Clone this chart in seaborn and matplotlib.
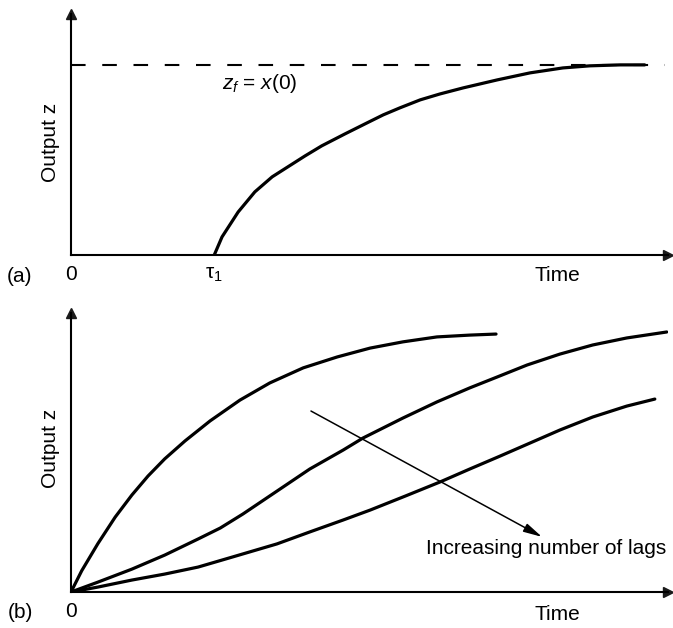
import matplotlib
matplotlib.use("Agg")
import matplotlib.pyplot as plt
import seaborn as sns

## panel (a): first-order response delayed by the dead time tau1 (time axis in units 0..10)
t_dead = [2.40, 2.53, 2.80, 3.08, 3.37, 3.63, 3.92, 4.20, 4.59, 4.96, 5.23,
          5.51, 5.85, 6.18, 6.57, 7.14, 7.69, 8.24, 8.69, 9.20, 9.61]
z_dead = [0.00, 0.095, 0.226, 0.332, 0.411, 0.463, 0.521, 0.574, 0.637, 0.695, 0.737,
          0.774, 0.816, 0.847, 0.879, 0.921, 0.958, 0.984, 0.995, 1.0, 1.0]
tau1 = 2.40
z_final = 1.0

## panel (b): responses for an increasing number of lags
t_lag1 = [0.0, 0.18, 0.45, 0.74, 1.02, 1.29, 1.57, 1.91, 2.33, 2.83, 3.33,
          3.89, 4.46, 5.01, 5.56, 6.13, 6.68, 7.12]
z_lag1 = [0.0, 0.082, 0.186, 0.288, 0.373, 0.446, 0.512, 0.581, 0.658, 0.738, 0.804,
          0.862, 0.904, 0.938, 0.962, 0.981, 0.988, 0.992]
t_lag2 = [0.0, 0.45, 1.02, 1.57, 2.13, 2.50, 2.88, 3.45, 4.00, 4.56, 4.89,
          5.56, 6.13, 6.68, 7.14, 7.64, 8.19, 8.74, 9.31, 9.98]
z_lag2 = [0.0, 0.038, 0.088, 0.142, 0.204, 0.246, 0.300, 0.388, 0.473, 0.546, 0.592,
          0.669, 0.731, 0.785, 0.827, 0.873, 0.915, 0.950, 0.977, 1.000]
t_lag3 = [0.0, 0.45, 1.02, 1.57, 2.13, 2.71, 3.45, 4.00, 4.56, 5.01, 5.60,
          6.18, 6.68, 7.19, 7.69, 8.19, 8.74, 9.31, 9.78]
z_lag3 = [0.0, 0.019, 0.046, 0.069, 0.096, 0.135, 0.185, 0.231, 0.277, 0.315, 0.369,
          0.423, 0.473, 0.523, 0.573, 0.623, 0.673, 0.715, 0.742]

## annotation arrow for the lag panel
arrow_start = (4.02, 0.696)
arrow_end = (7.89, 0.212)
arrow_label = "Increasing number of lags"

sns.set_theme(style="white")
plt.rcParams['font.family'] = ['Liberation Sans', 'DejaVu Sans']
plt.rcParams['mathtext.fontset'] = 'custom'
plt.rcParams['mathtext.rm'] = 'Liberation Sans'
plt.rcParams['mathtext.it'] = 'Liberation Sans:italic'
plt.rcParams['font.size'] = 15
plt.rcParams['text.color'] = 'black'
plt.rcParams['axes.labelcolor'] = 'black'
plt.rcParams['xtick.color'] = 'black'
plt.rcParams['lines.solid_joinstyle'] = 'round'
plt.rcParams['lines.solid_capstyle'] = 'round'

fig = plt.figure(figsize=(6.73, 6.28), dpi=100)
ax_a = fig.add_axes([0.1055, 0.594, 0.887, 0.3838])
ax_b = fig.add_axes([0.1055, 0.0573, 0.887, 0.4443])


## common axis styling: only left / bottom spines with arrow heads
def style_axes(ax, ymax):
    ax.set_xlim(0, 10)
    ax.set_ylim(0, ymax)
    sns.despine(ax=ax)
    for side in ["left", "bottom"]:
        ax.spines[side].set_color("black")
        ax.spines[side].set_linewidth(1.5)
    ax.plot(1, 0, ">k", ms=7, transform=ax.transAxes, clip_on=False)
    ax.plot(0, 1, "^k", ms=7, transform=ax.transAxes, clip_on=False)
    ax.set_yticks([])
    ax.tick_params(axis="x", length=0, pad=7, labelsize=15, colors="black")
    ax.set_ylabel("Output z", fontsize=15, color="black", va="center")
    ax.text(8.14, -0.045, "Time", transform=ax.get_xaxis_transform(),
            ha="center", va="top", fontsize=15)


## panel (a)
style_axes(ax_a, 1.268)
sns.lineplot(x=t_dead, y=z_dead, ax=ax_a, color="black", lw=2.3, sort=False, estimator=None)
ax_a.axhline(z_final, xmin=0, xmax=0.995, color="black", lw=1.5, ls=(0, (7, 8)))
ax_a.text(3.17, 0.90, r"$z_f$ = $x$(0)", ha="center", va="center", fontsize=15)
ax_a.set_xticks([0, tau1])
ax_a.set_xticklabels(["0", r"$\mathrm{\tau}_1$"])
ax_a.yaxis.set_label_coords(-0.034, 0.465)

## panel (b)
style_axes(ax_b, 1.073)
for tt, zz in [(t_lag1, z_lag1), (t_lag2, z_lag2), (t_lag3, z_lag3)]:
    sns.lineplot(x=tt, y=zz, ax=ax_b, color="black", lw=2.3, sort=False, estimator=None)
ax_b.annotate("", xy=arrow_end, xytext=arrow_start,
              arrowprops=dict(arrowstyle="-|>,head_length=0.75,head_width=0.18", lw=1.1,
                              color="black", mutation_scale=15, shrinkA=0, shrinkB=0))
ax_b.text(7.96, 0.169, arrow_label, ha="center", va="center", fontsize=15)
ax_b.set_xticks([0])
ax_b.set_xticklabels(["0"])
ax_b.yaxis.set_label_coords(-0.034, 0.516)

## panel tags
fig.text(20 / 673, 1 - 276 / 628, "(a)", ha="center", va="center", fontsize=15)
fig.text(20 / 673, 1 - 613 / 628, "(b)", ha="center", va="center", fontsize=15)

fig.savefig("out.png", dpi=100)
